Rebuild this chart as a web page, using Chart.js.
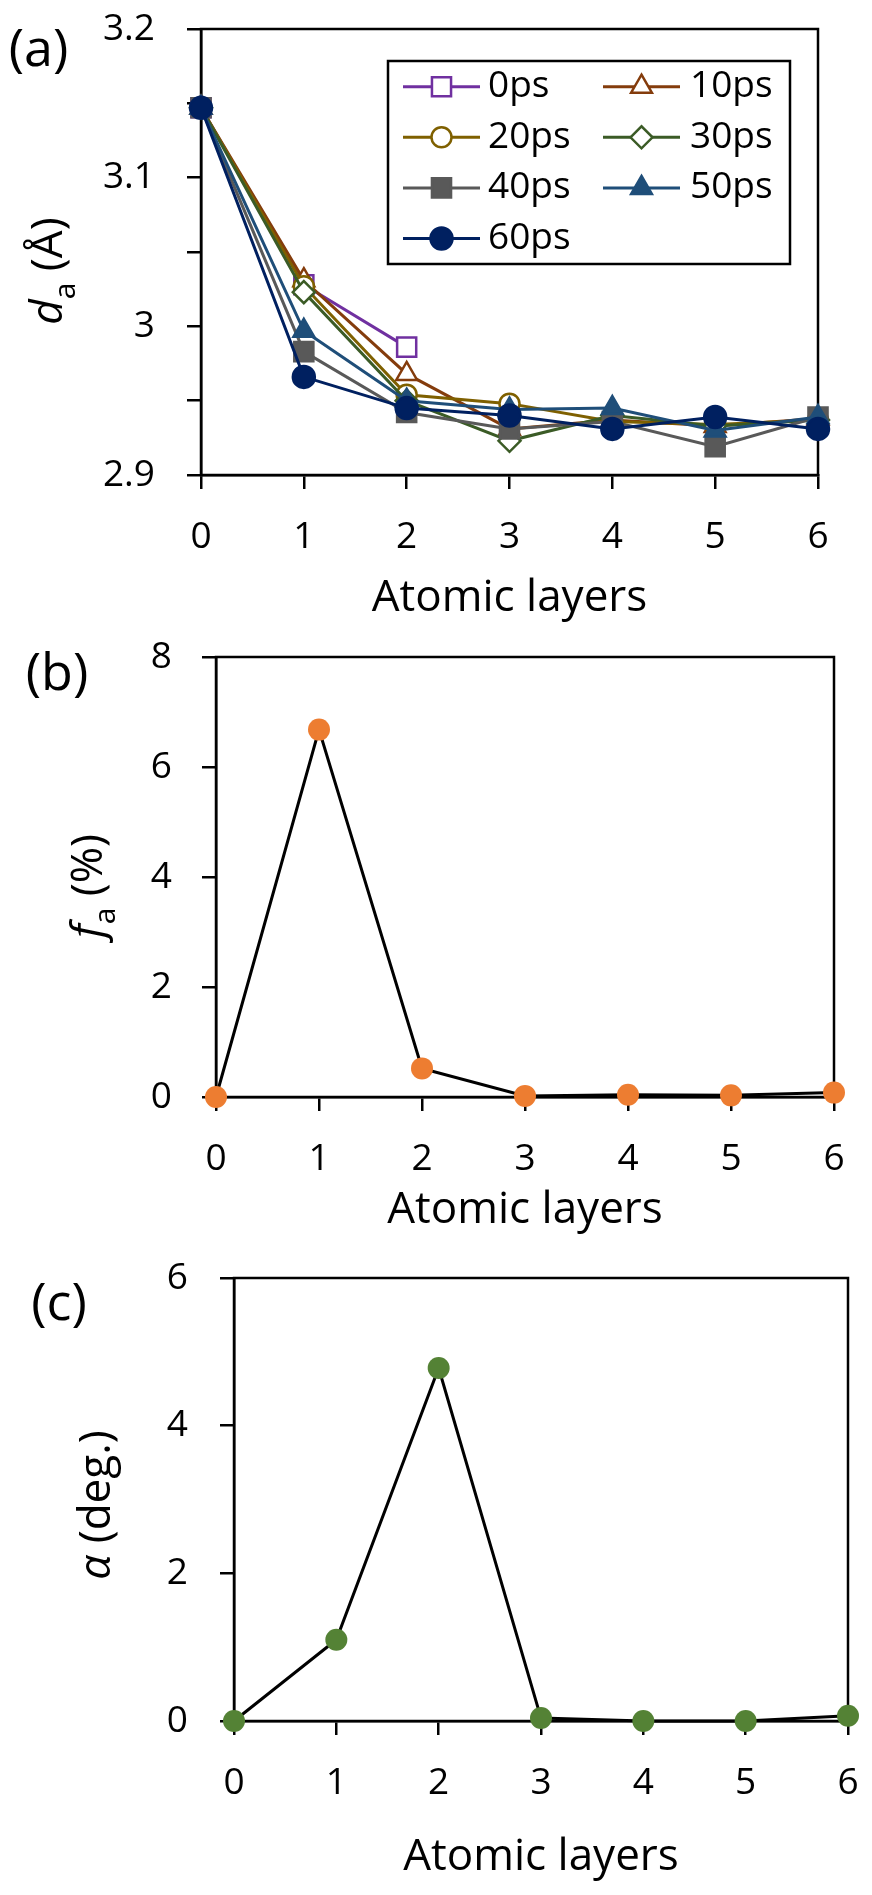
<!DOCTYPE html>
<html>
<head>
<meta charset="utf-8">
<script src="https://cdn.jsdelivr.net/npm/chart.js@4.4.0/dist/chart.umd.min.js"></script>
<style>
  body { margin: 0; background: #fff; }
  #page { position: relative; width: 872px; height: 1895px; }
  canvas { position: absolute; left: 0; }
</style>
</head>
<body>
<div id="page">
  <canvas id="chartA" width="872" height="640" style="top:0px"></canvas>
  <canvas id="chartB" width="872" height="630" style="top:620px"></canvas>
  <canvas id="chartC" width="872" height="655" style="top:1240px"></canvas>
</div>
<script>
// x categories shared by all three panels
const layers = ['0', '1', '2', '3', '4', '5', '6'];

// (a) interlayer spacing d_a (Å) per time step
const seriesNames = ['0ps', '10ps', '20ps', '30ps', '40ps', '50ps', '60ps'];
const d0ps  = [3.147, 3.028, 2.986];
const d10ps = [3.147, 3.031, 2.968, 2.931, 2.937, 2.933, 2.938];
const d20ps = [3.147, 3.027, 2.954, 2.948, 2.936, 2.934, 2.937];
const d30ps = [3.147, 3.023, 2.950, 2.923, 2.940, 2.933, 2.937];
const d40ps = [3.147, 2.983, 2.942, 2.931, 2.936, 2.919, 2.939];
const d50ps = [3.147, 2.997, 2.950, 2.944, 2.945, 2.930, 2.939];
const d60ps = [3.147, 2.966, 2.945, 2.940, 2.931, 2.939, 2.931];
const daRange = [2.9, 3.2];

// (b) f_a (%)
const faValues = [0, 6.68, 0.52, 0.02, 0.04, 0.03, 0.08];
const faRange = [0, 8];

// (c) alpha (deg.)
const alphaValues = [0, 1.10, 4.78, 0.04, 0, 0, 0.07];
const alphaRange = [0, 6];

// styling for the series in (a)
const seriesColors = ['#7030A0', '#843C0C', '#7F6000', '#3B5B26', '#595959', '#1F4E79', '#002060'];
const seriesMarkers = ['rect', 'triangle', 'circle', 'rectRot', 'rect', 'triangle', 'circle'];
const seriesFilled = [false, false, false, false, true, true, true];
const seriesRadius = [13.5, 12, 10, 11, 13.5, 12, 11];

const FONT = '"Open Sans", Lato, sans-serif';
Chart.defaults.font.family = FONT;
Chart.defaults.color = '#000';

function xAxis(tickPad, titlePad, height) {
  return {
    type: 'category',
    offset: false,
    grid: { display: true, drawOnChartArea: false, drawTicks: true, tickLength: 14, lineWidth: 2.5, tickWidth: 2.5, color: '#000', tickColor: '#000' },
    border: { display: true, color: '#000', width: 2.5 },
    ticks: { color: '#000', font: { size: 37 }, padding: tickPad, maxRotation: 0, autoSkip: false },
    title: { display: true, text: 'Atomic layers', color: '#000', font: { size: 44 }, padding: { top: 0, bottom: titlePad } },
    afterFit: (s) => { s.height = height; s.paddingLeft = 0; s.paddingRight = 0; }
  };
}

function yAxis(range, step, tickPad, width, cb) {
  return {
    min: range[0],
    max: range[1],
    grid: { display: true, drawOnChartArea: false, drawTicks: true, tickLength: 14, lineWidth: 2.5, tickWidth: 2.5, color: '#000', tickColor: '#000' },
    border: { display: true, color: '#000', width: 2.5 },
    ticks: { stepSize: step, color: '#000', font: { size: 37 }, padding: tickPad, callback: cb },
    afterFit: (s) => { s.width = width; s.paddingTop = 0; s.paddingBottom = 0; }
  };
}

// plot-area frame, drawn under the series
const framePlugin = {
  id: 'frame',
  beforeDatasetsDraw(chart) {
    const { ctx, chartArea: a } = chart;
    ctx.save();
    ctx.strokeStyle = '#000';
    ctx.lineWidth = 2.5;
    ctx.strokeRect(a.left, a.top, a.right - a.left, a.bottom - a.top);
    ctx.restore();
  }
};

// panel letter and rotated y title with italic / subscript parts
function decorPlugin(letter, letterPos, titleParts, titlePos) {
  return {
    id: 'decor',
    afterDraw(chart) {
      const ctx = chart.ctx;
      ctx.save();
      ctx.fillStyle = '#000';
      ctx.font = `52px ${FONT}`;
      ctx.textAlign = 'center';
      ctx.textBaseline = 'middle';
      ctx.fillText(letter, letterPos[0], letterPos[1]);

      const size = 44;
      const fonts = titleParts.map(p => `${p.italic ? 'italic ' : ''}${p.sub ? 30 : size}px ${FONT}`);
      let total = 0;
      const widths = titleParts.map((p, i) => {
        ctx.font = fonts[i];
        const w = ctx.measureText(p.text).width;
        total += w;
        return w;
      });
      ctx.translate(titlePos[0], titlePos[1]);
      ctx.rotate(-Math.PI / 2);
      ctx.textAlign = 'left';
      ctx.textBaseline = 'alphabetic';
      let x = -total / 2;
      titleParts.forEach((p, i) => {
        ctx.font = fonts[i];
        ctx.fillText(p.text, x, p.sub ? 13 : 0);
        x += widths[i];
      });
      ctx.restore();
    }
  };
}

// boxed two-column legend like the original
const boxLegendPlugin = {
  id: 'boxLegend',
  afterDraw(chart) {
    const ctx = chart.ctx;
    ctx.save();
    ctx.fillStyle = '#fff';
    ctx.fillRect(388, 61, 402, 203);
    ctx.strokeStyle = '#000';
    ctx.lineWidth = 2.5;
    ctx.strokeRect(388, 61, 402, 203);
    const lineX = [403, 603];
    const textX = [488, 690];
    chart.data.datasets.forEach((ds, i) => {
      const col = i % 2;
      const row = Math.floor(i / 2);
      const y = 86.7 + row * 50.6;
      ctx.strokeStyle = ds.borderColor;
      ctx.lineWidth = 3;
      ctx.beginPath();
      ctx.moveTo(lineX[col], y);
      ctx.lineTo(lineX[col] + 77, y);
      ctx.stroke();
      ctx.fillStyle = ds.pointBackgroundColor;
      ctx.strokeStyle = ds.pointBorderColor;
      ctx.lineWidth = ds.pointBorderWidth;
      Chart.helpers.drawPoint(ctx, { pointStyle: ds.pointStyle, radius: ds.pointRadius, rotation: 0, borderWidth: ds.pointBorderWidth }, lineX[col] + 38.5, y);
      ctx.fillStyle = '#000';
      ctx.font = `37px ${FONT}`;
      ctx.textAlign = 'left';
      ctx.textBaseline = 'middle';
      ctx.fillText(ds.label, textX[col], y);
    });
    ctx.restore();
  }
};

const baseOptions = (scales) => ({
  responsive: false,
  animation: false,
  events: [],
  plugins: { legend: { display: false }, tooltip: { enabled: false } },
  scales
});

// ---- (a)
const seriesA = [d0ps, d10ps, d20ps, d30ps, d40ps, d50ps, d60ps];
new Chart(document.getElementById('chartA'), {
  type: 'line',
  data: {
    labels: layers,
    datasets: seriesA.map((vals, i) => ({
      label: seriesNames[i],
      data: vals,
      borderColor: seriesColors[i],
      backgroundColor: seriesColors[i],
      borderWidth: 3,
      pointStyle: seriesMarkers[i],
      pointRadius: seriesRadius[i],
      pointBorderWidth: 2.5,
      pointBorderColor: seriesColors[i],
      pointBackgroundColor: seriesFilled[i] ? seriesColors[i] : '#fff',
      tension: 0,
      clip: false,
      order: seriesA.length - i
    }))
  },
  options: Object.assign(baseOptions({
    x: xAxis(26, 15, 640 - 475),
    y: yAxis(daRange, 0.05, 32, 201, (v) => (Math.round(v * 100) % 10 === 0 ? String(Math.round(v * 10) / 10) : ''))
  }), { layout: { padding: { top: 29, right: 872 - 818, left: 0, bottom: 0 } } }),
  plugins: [framePlugin, boxLegendPlugin,
    decorPlugin('(a)', [38.5, 51.5], [{ text: 'd', italic: true }, { text: 'a', sub: true }, { text: ' (Å)' }], [62, 271])]
});

// ---- (b)
new Chart(document.getElementById('chartB'), {
  type: 'line',
  data: {
    labels: layers,
    datasets: [{
      label: 'fa',
      data: faValues,
      borderColor: '#000',
      borderWidth: 3,
      pointRadius: 11,
      pointBorderWidth: 0,
      pointBackgroundColor: '#ED7D31',
      pointBorderColor: '#ED7D31',
      tension: 0,
      clip: false
    }]
  },
  options: Object.assign(baseOptions({
    x: xAxis(26, 13, 630 - 477),
    y: yAxis(faRange, 2, 30, 216, (v) => String(v))
  }), { layout: { padding: { top: 37, right: 872 - 834, left: 0, bottom: 0 } } }),
  plugins: [framePlugin,
    decorPlugin('(b)', [57, 675 - 620], [{ text: 'f', italic: true }, { text: 'a', sub: true }, { text: ' (%)' }], [102, 886 - 620])]
});

// ---- (c)
new Chart(document.getElementById('chartC'), {
  type: 'line',
  data: {
    labels: layers,
    datasets: [{
      label: 'alpha',
      data: alphaValues,
      borderColor: '#000',
      borderWidth: 3,
      pointRadius: 11,
      pointBorderWidth: 0,
      pointBackgroundColor: '#548235',
      pointBorderColor: '#548235',
      tension: 0,
      clip: false
    }]
  },
  options: Object.assign(baseOptions({
    x: xAxis(26, 11, 655 - 481),
    y: yAxis(alphaRange, 2, 32, 234, (v) => String(v))
  }), { layout: { padding: { top: 38, right: 872 - 848, left: 0, bottom: 0 } } }),
  plugins: [framePlugin,
    decorPlugin('(c)', [59, 1305 - 1240], [{ text: 'α', italic: true }, { text: ' (deg.)' }], [110, 1505 - 1240])]
});
</script>
</body>
</html>
